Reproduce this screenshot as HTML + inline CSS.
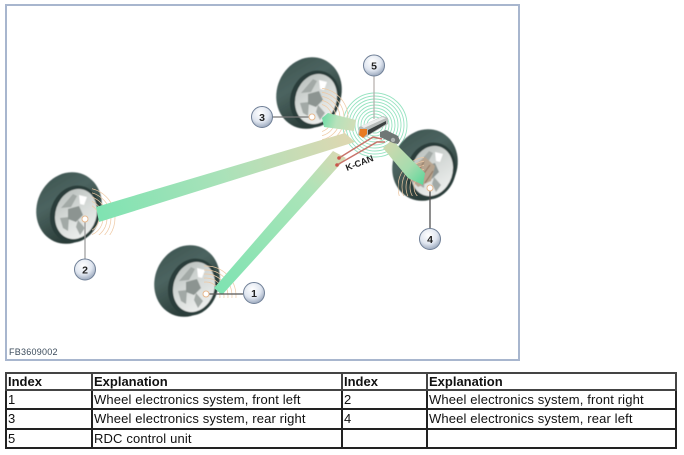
<!DOCTYPE html>
<html><head><meta charset="utf-8">
<style>
html,body{margin:0;padding:0;background:#fff;width:684px;height:455px;overflow:hidden}
svg{position:absolute;left:0;top:0}
table{position:absolute;left:5px;top:372px;width:672px;border-collapse:collapse;table-layout:fixed;font:13px "Liberation Sans",sans-serif;letter-spacing:.14px;color:#111}
td,th{border:2px solid #222;padding:0 0 0 1px;text-align:left;vertical-align:middle;white-space:nowrap;overflow:hidden;line-height:14px}
th{font-weight:bold;border-color:#444;letter-spacing:0}
tr.h{height:17px}tr.a{height:19px}tr.b{height:20px}
</style></head><body>
<svg width="684" height="455" viewBox="0 0 684 455" xmlns="http://www.w3.org/2000/svg">
<defs>
<filter id="soft" x="-10%" y="-10%" width="120%" height="120%"><feGaussianBlur stdDeviation=".5"/></filter>
<linearGradient id="tire" x1="0" y1="0" x2="1" y2=".8"><stop offset="0" stop-color="#3a514e"/><stop offset=".4" stop-color="#4c6460"/><stop offset="1" stop-color="#1f2f2c"/></linearGradient>
<linearGradient id="rim" x1="0" y1="0" x2="1" y2="1"><stop offset="0" stop-color="#b4bbb8"/><stop offset=".5" stop-color="#d8dcda"/><stop offset="1" stop-color="#f4f5f4"/></linearGradient>
<radialGradient id="ball" cx="42%" cy="32%" r="75%"><stop offset="0" stop-color="#ffffff"/><stop offset=".55" stop-color="#e0e6f0"/><stop offset="1" stop-color="#8c9bb2"/></radialGradient>
<linearGradient id="b2" gradientUnits="userSpaceOnUse" x1="97" y1="214" x2="345" y2="140"><stop offset="0" stop-color="#7fe3b2"/><stop offset=".5" stop-color="#a9e2b9"/><stop offset="1" stop-color="#dcd8b2"/></linearGradient>
<linearGradient id="b1" gradientUnits="userSpaceOnUse" x1="218" y1="290" x2="345" y2="150"><stop offset="0" stop-color="#7fe3b2"/><stop offset=".7" stop-color="#abe4b8"/><stop offset="1" stop-color="#dcd8b2"/></linearGradient>
<linearGradient id="b3" gradientUnits="userSpaceOnUse" x1="322" y1="118" x2="358" y2="127"><stop offset="0" stop-color="#6fdca6"/><stop offset=".4" stop-color="#b7e2bb"/><stop offset="1" stop-color="#d6dcb6"/></linearGradient>
<linearGradient id="b4" gradientUnits="userSpaceOnUse" x1="382" y1="145" x2="425" y2="185"><stop offset="0" stop-color="#d2d8ae"/><stop offset=".6" stop-color="#a6dcae"/><stop offset="1" stop-color="#58d699"/></linearGradient>
<g id="arcs" fill="none" stroke="#eec9a4" stroke-width=".7">
<circle r="14"/><circle r="18"/><circle r="22"/><circle r="26"/><circle r="30"/>
</g>
<g id="wheel">
<ellipse cx="-7" cy="-6" rx="32" ry="36.500" transform="rotate(24 -7 -6)" fill="url(#tire)"/>
<ellipse cx="-1" cy="0" rx="24.500" ry="29" transform="rotate(20 -1 0)" fill="#2c3e3a"/>
<ellipse cx="0" cy="0" rx="20.500" ry="25.500" transform="rotate(18)" fill="url(#rim)"/>
<path d="M-15-6L-3-20L1-18L-5-7ZM-16 4L-7 3L-8 17L-13 14ZM2 6L9 14L4 21L0 13Z" fill="#a2a9a6"/>
<path d="M-8-5L3-8L7 1L0 8L-8 5Z" fill="#8c9491"/>
<path d="M3-19L11-17L8-9L4-10Z" fill="#ffffff"/>
</g>
<clipPath id="c1"><rect x="204" y="262" width="50" height="36"/></clipPath>
<clipPath id="c2"><rect x="92" y="185" width="40" height="50"/></clipPath>
<clipPath id="c3"><rect x="322" y="88" width="30" height="60"/></clipPath>
<clipPath id="c4"><rect x="398" y="150" width="26" height="46"/></clipPath>
</defs>
<rect x="6" y="5" width="513" height="355" fill="#fff" stroke="#a8b6ce" stroke-width="2"/>

<g fill="none" stroke="#97e3c1" stroke-width=".9">
<circle cx="375" cy="125" r="8"/><circle cx="375" cy="125" r="11"/><circle cx="375" cy="125" r="14"/><circle cx="375" cy="125" r="17"/><circle cx="375" cy="125" r="20"/><circle cx="375" cy="125" r="23"/><circle cx="375" cy="125" r="26"/><circle cx="375" cy="125" r="29"/><circle cx="375" cy="125" r="32"/>
</g>

<g filter="url(#soft)">
<use href="#wheel" x="316" y="99"/>
<use href="#wheel" x="432" y="171"/>
<use href="#wheel" x="76" y="214"/>
<use href="#wheel" x="194" y="287"/>
<path d="M412 167L425 157L435 166L431 181L418 187L409 178Z" fill="#b7a48f"/>
<path d="M415 176L424 162M419 180L430 165M425 183L433 171" stroke="#8a6e58" stroke-width="1" fill="none"/>
</g>
<g clip-path="url(#c3)"><use href="#arcs" x="318" y="118"/></g>
<g clip-path="url(#c4)"><use href="#arcs" x="428" y="187"/></g>
<g clip-path="url(#c2)"><use href="#arcs" x="85" y="218"/></g>
<g clip-path="url(#c1)"><use href="#arcs" x="206" y="296"/></g>

<polygon points="96,207 345,133 355,142 99,222" fill="url(#b2)"/>
<polygon points="214,288 333,151 346,158 222,295" fill="url(#b1)"/>
<polygon points="322,118 328,113 356,120 354,131 324,127" fill="url(#b3)"/>
<polygon points="383,148 392,140 425,173 423,185 408,178" fill="url(#b4)"/>

<g fill="none" stroke="#c9736a" stroke-width="1.5">
<path d="M339 158L373 137L382 139"/>
<path d="M337 165L377 142L385 142"/>
</g>
<circle cx="339" cy="158" r="1.8" fill="#c9564c"/><circle cx="337" cy="165" r="1.8" fill="#c9564c"/>

<path d="M380 132l6-2 12 6 2 5-2 3-5-1-13-6z" fill="#6f7775"/>
<circle cx="393" cy="140" r="2.2" fill="#aeb4b2"/>
<path d="M359 127l24-11 5 2 0 6-24 14-6-3z" fill="#b8bdbb"/>
<path d="M361 126l21-9 4 1-22 10z" fill="#eceeed"/>
<path d="M360 129l7 0 0 5-4 4-4-3z" fill="#e87b22"/>
<path d="M368 130l18-9 0 3-18 11z" fill="#3a4140"/>

<text x="347" y="171" font-family="Liberation Sans,sans-serif" font-size="9" font-weight="bold" fill="#222" transform="rotate(-21 347 171)">K-CAN</text>

<g fill="none" stroke-width="1.2">
<path d="M374 76V119" stroke="#b3adab"/>
<path d="M272 117H312" stroke="#777"/>
<path d="M430 188V228" stroke="#444"/>
<path d="M85 219V259" stroke="#999"/>
<path d="M206 294H243" stroke="#555"/>
</g>
<g fill="#fff" stroke="#e7b98f" stroke-width="1">
<circle cx="312" cy="117" r="3"/><circle cx="430" cy="188" r="3"/><circle cx="85" cy="219" r="3"/><circle cx="206" cy="294" r="3"/>
</g>
<g fill="url(#ball)" stroke="#6f7f96" stroke-width="1">
<circle cx="374" cy="65.500" r="10.500"/><circle cx="262" cy="117" r="10.500"/><circle cx="430" cy="239" r="10.500"/><circle cx="85" cy="269.500" r="10.500"/><circle cx="254" cy="293" r="10.500"/>
</g>
<g font-family="Liberation Sans,sans-serif" font-size="10.500" font-weight="bold" fill="#222" text-anchor="middle">
<text x="374" y="69.500">5</text><text x="262" y="121">3</text><text x="430" y="243">4</text><text x="85" y="273.500">2</text><text x="254" y="297">1</text>
</g>
<text x="9" y="355" font-family="Liberation Sans,sans-serif" font-size="9" letter-spacing=".25" fill="#3a4a5a">FB3609002</text>
</svg>
<table>
<colgroup><col style="width:86px"><col style="width:250px"><col style="width:85px"><col style="width:249px"></colgroup>
<tr class="h"><th>Index</th><th>Explanation</th><th>Index</th><th>Explanation</th></tr>
<tr class="a"><td>1</td><td>Wheel electronics system, front left</td><td>2</td><td>Wheel electronics system, front right</td></tr>
<tr class="b"><td>3</td><td>Wheel electronics system, rear right</td><td>4</td><td>Wheel electronics system, rear left</td></tr>
<tr class="a"><td>5</td><td>RDC control unit</td><td></td><td></td></tr>
</table>
</body></html>
